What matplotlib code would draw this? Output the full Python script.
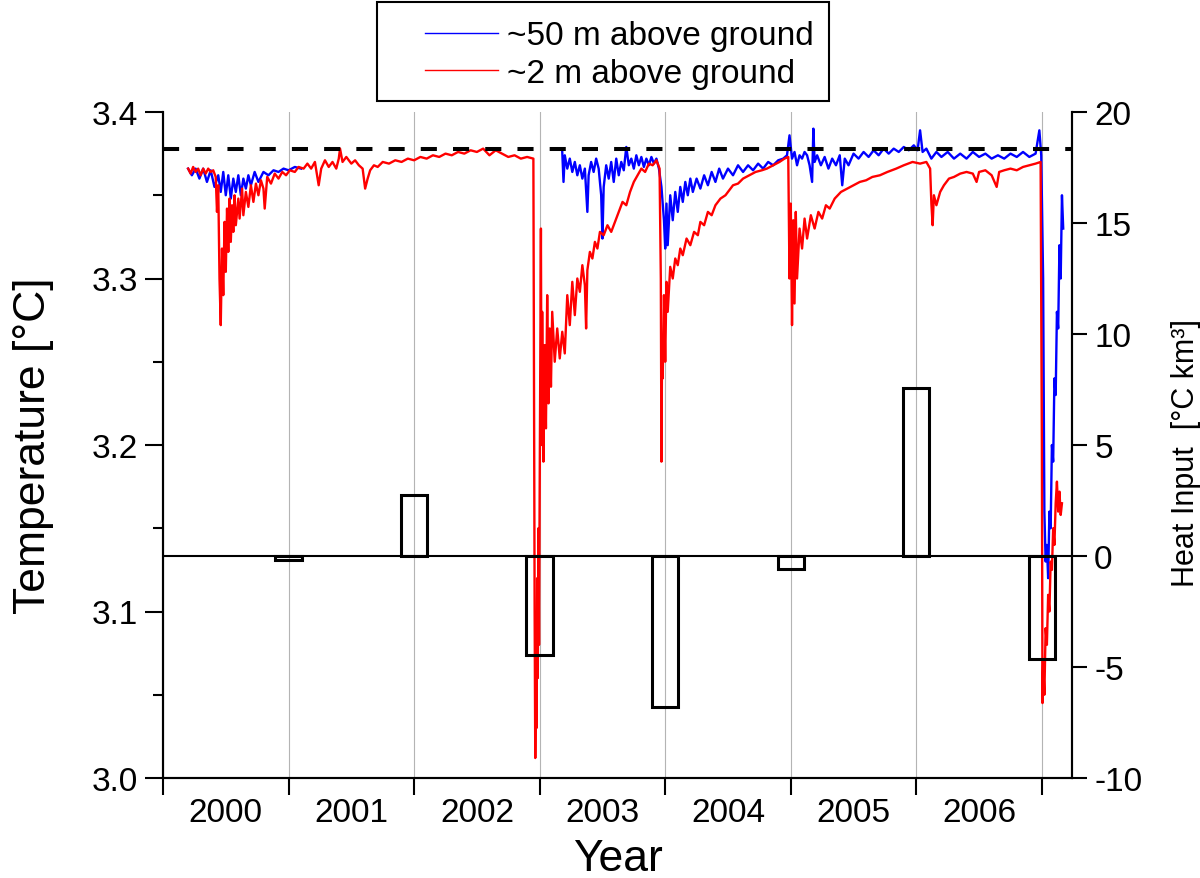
import numpy as np
import matplotlib.pyplot as plt
from matplotlib.lines import Line2D
from matplotlib.patches import Rectangle

plt.rcParams['font.family'] = ['Liberation Sans', 'DejaVu Sans']
plt.rcParams['axes.unicode_minus'] = False

# water temperature ~2 m above ground: (decimal year, degC)
temp_2m = [
    (2000.20, 3.366), (2000.22, 3.363), (2000.24, 3.367), (2000.26, 3.364), (2000.28, 3.366),
    (2000.30, 3.362), (2000.32, 3.366), (2000.34, 3.363), (2000.36, 3.366), (2000.38, 3.364),
    (2000.40, 3.365), (2000.42, 3.361), (2000.43, 3.340), (2000.44, 3.356), (2000.45, 3.300),
    (2000.46, 3.272), (2000.47, 3.318), (2000.48, 3.290), (2000.49, 3.334), (2000.50, 3.304),
    (2000.51, 3.342), (2000.52, 3.316), (2000.53, 3.348), (2000.54, 3.322), (2000.55, 3.344),
    (2000.56, 3.328), (2000.57, 3.350), (2000.58, 3.332), (2000.60, 3.348), (2000.61, 3.336),
    (2000.63, 3.354), (2000.64, 3.338), (2000.66, 3.352), (2000.68, 3.343), (2000.70, 3.356),
    (2000.72, 3.346), (2000.74, 3.357), (2000.76, 3.350), (2000.78, 3.359), (2000.80, 3.354),
    (2000.81, 3.342), (2000.83, 3.361), (2000.86, 3.357), (2000.89, 3.363), (2000.92, 3.360),
    (2000.95, 3.364), (2000.98, 3.362), (2001.01, 3.365), (2001.05, 3.364), (2001.08, 3.367),
    (2001.12, 3.366), (2001.15, 3.369), (2001.18, 3.366), (2001.21, 3.370), (2001.24, 3.356),
    (2001.26, 3.366), (2001.29, 3.371), (2001.32, 3.367), (2001.35, 3.370), (2001.38, 3.366),
    (2001.40, 3.372), (2001.41, 3.378), (2001.43, 3.370), (2001.46, 3.373), (2001.50, 3.369),
    (2001.53, 3.371), (2001.56, 3.368), (2001.59, 3.366), (2001.61, 3.354), (2001.63, 3.360),
    (2001.65, 3.365), (2001.68, 3.368), (2001.71, 3.367), (2001.75, 3.370), (2001.80, 3.369),
    (2001.85, 3.371), (2001.90, 3.370), (2001.95, 3.372), (2002.00, 3.371), (2002.05, 3.373),
    (2002.10, 3.372), (2002.15, 3.374), (2002.20, 3.373), (2002.25, 3.375), (2002.30, 3.374),
    (2002.35, 3.376), (2002.40, 3.375), (2002.45, 3.377), (2002.50, 3.376), (2002.55, 3.378),
    (2002.60, 3.374), (2002.65, 3.377), (2002.70, 3.375), (2002.75, 3.373), (2002.80, 3.374),
    (2002.85, 3.372), (2002.90, 3.373), (2002.95, 3.372), (2002.96, 3.100), (2002.965, 3.012),
    (2002.97, 3.060), (2002.975, 3.030), (2002.98, 3.120), (2002.985, 3.060), (2002.99, 3.150),
    (2002.995, 3.080), (2003.00, 3.170), (2003.01, 3.330), (2003.015, 3.200), (2003.02, 3.280),
    (2003.03, 3.190), (2003.04, 3.260), (2003.05, 3.210), (2003.06, 3.290), (2003.07, 3.225),
    (2003.08, 3.270), (2003.09, 3.235), (2003.10, 3.280), (2003.12, 3.250), (2003.14, 3.270),
    (2003.16, 3.252), (2003.18, 3.268), (2003.20, 3.255), (2003.22, 3.290), (2003.24, 3.272),
    (2003.26, 3.298), (2003.28, 3.278), (2003.30, 3.300), (2003.32, 3.292), (2003.34, 3.308),
    (2003.36, 3.296), (2003.37, 3.270), (2003.38, 3.305), (2003.40, 3.316), (2003.42, 3.312),
    (2003.44, 3.322), (2003.46, 3.318), (2003.48, 3.328), (2003.51, 3.326), (2003.54, 3.332),
    (2003.57, 3.328), (2003.60, 3.334), (2003.63, 3.340), (2003.66, 3.346), (2003.69, 3.344),
    (2003.72, 3.352), (2003.75, 3.358), (2003.78, 3.362), (2003.81, 3.366), (2003.84, 3.364),
    (2003.87, 3.369), (2003.90, 3.368), (2003.93, 3.371), (2003.955, 3.366), (2003.965, 3.300),
    (2003.97, 3.190), (2003.975, 3.260), (2003.98, 3.240), (2003.99, 3.290), (2004.00, 3.250),
    (2004.01, 3.298), (2004.02, 3.280), (2004.04, 3.307), (2004.06, 3.300), (2004.08, 3.312),
    (2004.10, 3.308), (2004.12, 3.318), (2004.14, 3.314), (2004.17, 3.324), (2004.20, 3.320),
    (2004.23, 3.328), (2004.26, 3.326), (2004.28, 3.334), (2004.31, 3.332), (2004.34, 3.340),
    (2004.37, 3.338), (2004.40, 3.344), (2004.44, 3.348), (2004.48, 3.350), (2004.51, 3.353),
    (2004.54, 3.356), (2004.58, 3.357), (2004.62, 3.360), (2004.67, 3.362), (2004.72, 3.364),
    (2004.77, 3.365), (2004.81, 3.366), (2004.86, 3.368), (2004.91, 3.370), (2004.95, 3.372),
    (2004.98, 3.373), (2004.99, 3.300), (2005.00, 3.345), (2005.01, 3.272), (2005.02, 3.335),
    (2005.03, 3.285), (2005.04, 3.340), (2005.05, 3.300), (2005.07, 3.330), (2005.09, 3.318),
    (2005.11, 3.336), (2005.13, 3.324), (2005.16, 3.338), (2005.19, 3.330), (2005.22, 3.340),
    (2005.25, 3.336), (2005.28, 3.344), (2005.31, 3.342), (2005.35, 3.348), (2005.40, 3.352),
    (2005.45, 3.354), (2005.50, 3.356), (2005.55, 3.358), (2005.60, 3.359), (2005.65, 3.361),
    (2005.71, 3.362), (2005.77, 3.364), (2005.84, 3.366), (2005.90, 3.368), (2005.97, 3.370),
    (2006.03, 3.369), (2006.08, 3.370), (2006.11, 3.366), (2006.12, 3.345), (2006.13, 3.332),
    (2006.14, 3.350), (2006.16, 3.344), (2006.19, 3.352), (2006.22, 3.356), (2006.26, 3.360),
    (2006.30, 3.361), (2006.35, 3.363), (2006.40, 3.364), (2006.45, 3.363), (2006.48, 3.358),
    (2006.50, 3.364), (2006.55, 3.365), (2006.60, 3.362), (2006.64, 3.355), (2006.66, 3.364),
    (2006.70, 3.365), (2006.75, 3.366), (2006.80, 3.365), (2006.85, 3.367), (2006.90, 3.368),
    (2006.95, 3.369), (2006.99, 3.370), (2007.00, 3.200), (2007.005, 3.045), (2007.01, 3.070),
    (2007.02, 3.050), (2007.03, 3.090), (2007.04, 3.080), (2007.05, 3.110), (2007.06, 3.100),
    (2007.07, 3.130), (2007.08, 3.125), (2007.09, 3.150), (2007.10, 3.140), (2007.11, 3.165),
    (2007.12, 3.178), (2007.13, 3.160), (2007.14, 3.172), (2007.15, 3.158), (2007.16, 3.165),
]

# water temperature ~50 m above ground, first record (2000)
temp_50m_a = [
    (2000.20, 3.366), (2000.23, 3.362), (2000.26, 3.366), (2000.29, 3.360), (2000.32, 3.366),
    (2000.35, 3.358), (2000.38, 3.365), (2000.41, 3.355), (2000.44, 3.362), (2000.46, 3.352),
    (2000.48, 3.364), (2000.50, 3.350), (2000.52, 3.362), (2000.54, 3.348), (2000.56, 3.360),
    (2000.58, 3.352), (2000.60, 3.362), (2000.62, 3.350), (2000.64, 3.360), (2000.66, 3.354),
    (2000.68, 3.362), (2000.70, 3.356), (2000.73, 3.364), (2000.76, 3.358), (2000.80, 3.364),
    (2000.84, 3.362), (2000.88, 3.365), (2000.92, 3.364), (2000.96, 3.366), (2001.00, 3.365),
    (2001.05, 3.367), (2001.10, 3.366),
]

# water temperature ~50 m above ground, second record (2003-2007)
temp_50m_b = [
    (2003.18, 3.376), (2003.19, 3.358), (2003.20, 3.374), (2003.22, 3.366), (2003.24, 3.372),
    (2003.26, 3.364), (2003.28, 3.370), (2003.30, 3.362), (2003.32, 3.368), (2003.34, 3.360),
    (2003.36, 3.366), (2003.38, 3.340), (2003.39, 3.362), (2003.41, 3.370), (2003.43, 3.364),
    (2003.45, 3.372), (2003.47, 3.366), (2003.49, 3.350), (2003.50, 3.324), (2003.51, 3.355),
    (2003.53, 3.368), (2003.55, 3.360), (2003.57, 3.370), (2003.59, 3.358), (2003.61, 3.372),
    (2003.63, 3.362), (2003.65, 3.370), (2003.67, 3.365), (2003.69, 3.379), (2003.71, 3.368),
    (2003.73, 3.372), (2003.75, 3.366), (2003.77, 3.374), (2003.79, 3.368), (2003.81, 3.373),
    (2003.83, 3.367), (2003.85, 3.372), (2003.87, 3.368), (2003.89, 3.373), (2003.91, 3.369),
    (2003.93, 3.372), (2003.95, 3.366), (2003.97, 3.355), (2003.99, 3.335), (2004.00, 3.318),
    (2004.01, 3.345), (2004.02, 3.320), (2004.04, 3.350), (2004.06, 3.335), (2004.08, 3.352),
    (2004.10, 3.340), (2004.12, 3.355), (2004.14, 3.346), (2004.16, 3.358), (2004.18, 3.350),
    (2004.20, 3.360), (2004.22, 3.352), (2004.25, 3.360), (2004.28, 3.354), (2004.31, 3.362),
    (2004.34, 3.356), (2004.37, 3.364), (2004.40, 3.358), (2004.43, 3.366), (2004.46, 3.360),
    (2004.50, 3.366), (2004.54, 3.362), (2004.58, 3.368), (2004.62, 3.364), (2004.66, 3.368),
    (2004.70, 3.365), (2004.74, 3.369), (2004.78, 3.366), (2004.82, 3.370), (2004.86, 3.368),
    (2004.90, 3.371), (2004.94, 3.372), (2004.97, 3.374), (2004.99, 3.386), (2005.01, 3.372),
    (2005.03, 3.376), (2005.05, 3.368), (2005.07, 3.374), (2005.09, 3.372), (2005.11, 3.376),
    (2005.13, 3.374), (2005.15, 3.368), (2005.17, 3.358), (2005.18, 3.390), (2005.19, 3.370),
    (2005.21, 3.374), (2005.24, 3.368), (2005.27, 3.373), (2005.30, 3.366), (2005.33, 3.372),
    (2005.36, 3.368), (2005.39, 3.374), (2005.41, 3.356), (2005.43, 3.372), (2005.46, 3.368),
    (2005.50, 3.375), (2005.54, 3.372), (2005.58, 3.376), (2005.62, 3.373), (2005.66, 3.377),
    (2005.70, 3.374), (2005.74, 3.378), (2005.78, 3.375), (2005.82, 3.378), (2005.86, 3.376),
    (2005.90, 3.379), (2005.94, 3.377), (2005.98, 3.380), (2006.01, 3.377), (2006.03, 3.389),
    (2006.05, 3.376), (2006.08, 3.378), (2006.12, 3.372), (2006.16, 3.376), (2006.20, 3.373),
    (2006.25, 3.376), (2006.30, 3.372), (2006.35, 3.375), (2006.40, 3.372), (2006.45, 3.376),
    (2006.50, 3.373), (2006.55, 3.375), (2006.60, 3.372), (2006.65, 3.374), (2006.70, 3.372),
    (2006.75, 3.375), (2006.80, 3.373), (2006.85, 3.376), (2006.90, 3.373), (2006.95, 3.375),
    (2006.98, 3.389), (2006.995, 3.374), (2007.01, 3.300), (2007.02, 3.160), (2007.03, 3.130),
    (2007.04, 3.140), (2007.05, 3.120), (2007.06, 3.160), (2007.07, 3.150), (2007.08, 3.200),
    (2007.09, 3.190), (2007.10, 3.240), (2007.11, 3.230), (2007.12, 3.280), (2007.13, 3.270),
    (2007.14, 3.320), (2007.15, 3.300), (2007.16, 3.350), (2007.17, 3.330),
]

# yearly heat input (degC km^3), plotted at the year boundaries
bar_years = [2001, 2002, 2003, 2004, 2005, 2006, 2007]
heat_input = [-0.2, 2.75, -4.45, -6.8, -0.6, 7.55, -4.65]

years = list(range(2000, 2008))
year_labels = [str(y) for y in range(2000, 2007)]
mean_temp = 3.378

fig = plt.figure(figsize=(12, 8.79), dpi=100)
ax = fig.add_axes([163 / 1200, 100 / 879, 909 / 1200, 666 / 879])

t, v = np.array(temp_50m_a).T
ax.plot(t, v, color='#0000ff', lw=1.7)
t, v = np.array(temp_50m_b).T
ax.plot(t, v, color='#0000ff', lw=1.7)
t, v = np.array(temp_2m).T
ax.plot(t, v, color='#ff0000', lw=1.7)

ax.axhline(mean_temp, color='black', lw=2.9, dashes=(4, 4))

ax.set_xlim(2000, 2007.24)
ax.set_ylim(3.0, 3.4)
ax.set_xticks(years, labels=[''] * len(years))
ax.set_xticks([y + 0.5 for y in range(2000, 2007)], labels=year_labels, minor=True)
ax.set_yticks([3.0, 3.1, 3.2, 3.3, 3.4], labels=['3.0', '3.1', '3.2', '3.3', '3.4'])
ax.set_yticks([3.05, 3.15, 3.25, 3.35], minor=True)
ax.grid(axis='x', which='major', color='#b4b4b4', lw=0.8)
ax.set_axisbelow(True)

ax.tick_params(axis='x', which='major', direction='out', length=12, width=1.5)
ax.tick_params(axis='x', which='minor', length=0, pad=14, labelsize=24)
ax.tick_params(axis='y', which='major', direction='out', length=13, width=1.5,
               labelsize=24, pad=5)
ax.tick_params(axis='y', which='minor', direction='out', length=7, width=1.5)

ax2 = ax.twinx()
ax2.bar(bar_years, heat_input, width=0.21, fill=False, edgecolor='black', lw=2.2)
ax2.axhline(0, color='black', lw=1.5)
ax2.set_ylim(-10, 20)
ax2.set_yticks([-10, -5, 0, 5, 10, 15, 20])
ax2.tick_params(axis='y', direction='out', length=11, width=1.5, labelsize=24, pad=5)

for a in (ax, ax2):
    a.spines['top'].set_visible(False)
    for side in ('left', 'right', 'bottom'):
        a.spines[side].set_linewidth(1.5)

ax.set_xlabel('Year', fontsize=32, va='center')
ax.xaxis.set_label_coords(0.5, -0.1216)
ax.set_ylabel('Temperature [°C]', fontsize=32, va='center')
ax.yaxis.set_label_coords(-0.143, 0.5)
ax2.set_ylabel('Heat Input  [°C km³]', fontsize=22, va='center', rotation=90)
ax2.yaxis.set_label_coords(1.1254, 0.49)

# thin handles for the legend, which sits above the axes in its own box
handles = [Line2D([], [], color='#0000ff', lw=1.0),
           Line2D([], [], color='#ff0000', lw=1.0)]
fig.legend(handles, ['~50 m above ground', '~2 m above ground'],
           loc='center left', bbox_to_anchor=(425 / 1200, 1 - 55.5 / 879),
           frameon=False, fontsize=24, handlelength=2.2, handletextpad=0.25,
           labelspacing=0.2, borderpad=0, borderaxespad=0)
fig.add_artist(Rectangle((377 / 1200, 1 - 102 / 879), 452 / 1200, 99 / 879,
                         transform=fig.transFigure, fill=False, ec='black', lw=1.5))

fig.savefig('out.png', dpi=100)
